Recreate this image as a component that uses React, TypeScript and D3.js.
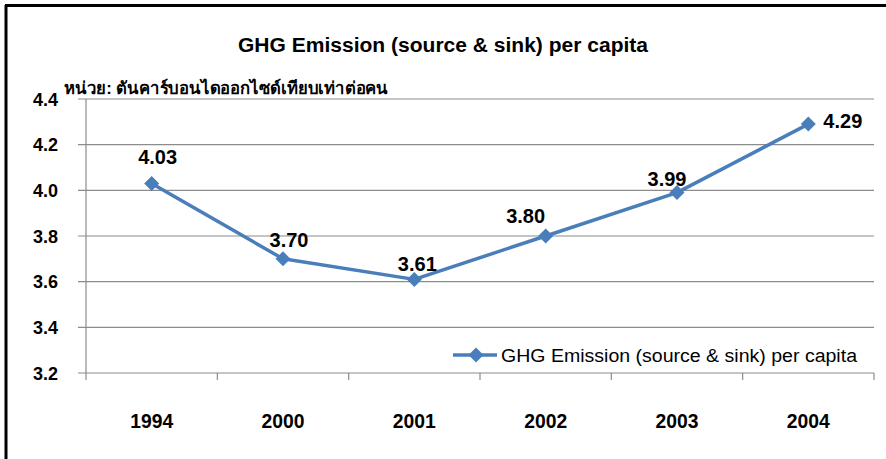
import React from "react";
import * as d3 from "d3";

const categories = ["1994", "2000", "2001", "2002", "2003", "2004"];
const values = [4.03, 3.7, 3.61, 3.8, 3.99, 4.29];
const yTicks = [3.2, 3.4, 3.6, 3.8, 4.0, 4.2, 4.4];
const seriesName = "GHG Emission (source & sink) per capita";
const titleText = "GHG Emission (source & sink) per capita";
const unitText = "หน่วย: ตันคาร์บอนไดออกไซด์เทียบเท่าต่อคน";

const W = 886;
const H = 459;
const left = 86;
const right = 874;
const top = 99;
const bottom = 373;
const blue = "#4a7ebb";
const grid = "#8c8c8c";
const font = "'Liberation Sans', Arial, Helvetica, sans-serif";
// data-label placement offsets (layout only)
const labelDx = [6, 6, 3, -20, -10, 15];
const labelDy = [-19, -12, -8.5, -13, -6.5, 4];

export default function App() {
  const x = d3.scaleBand<string>().domain(categories).range([left, right]).paddingInner(0).paddingOuter(0);
  const y = d3.scaleLinear().domain([3.2, 4.4]).range([bottom, top]);
  const cx = (c: string) => (x(c) as number) + x.bandwidth() / 2;
  const line = d3
    .line<number>()
    .x((_, i) => cx(categories[i]))
    .y((d) => y(d));
  const boundaries = [...categories.map((c) => x(c) as number), right];
  const diamond = (px: number, py: number, r: number) =>
    `M${px},${py - r}L${px + r},${py}L${px},${py + r}L${px - r},${py}Z`;

  return (
    <svg width={W} height={H} style={{ position: "absolute", left: 0, top: 0, background: "#fff" }}>
      <rect x={0} y={0} width={W} height={H} fill="#fff" />
      {/* frame */}
      <line x1={5} y1={5.5} x2={W} y2={5.5} stroke="#000" strokeWidth={3} />
      <line x1={6} y1={5} x2={6} y2={H} stroke="#000" strokeWidth={3} />

      <text x={443} y={52} textAnchor="middle" fontFamily={font} fontWeight="bold" fontSize={20} textLength={410} lengthAdjust="spacingAndGlyphs" fill="#000">
        {titleText}
      </text>
      <text x={64} y={94} fontFamily={font} fontWeight="bold" fontSize={17} textLength={324} lengthAdjust="spacingAndGlyphs" fill="#000">
        {unitText}
      </text>

      {/* gridlines */}
      {yTicks.map((t) => (
        <g key={t}>
          <line x1={left - 8} x2={right} y1={y(t)} y2={y(t)} stroke={grid} strokeWidth={1.2} />
          <text x={58} y={y(t) + 6.5} textAnchor="end" fontFamily={font} fontWeight="bold" fontSize={18} fill="#000">
            {t.toFixed(1)}
          </text>
        </g>
      ))}
      <line x1={left} x2={left} y1={top} y2={bottom} stroke={grid} strokeWidth={1.2} />
      {boundaries.map((b, i) => (
        <line key={i} x1={b} x2={b} y1={bottom} y2={bottom + 7} stroke={grid} strokeWidth={1.2} />
      ))}
      {categories.map((c) => (
        <text key={c} x={cx(c)} y={428} textAnchor="middle" fontFamily={font} fontWeight="bold" fontSize={20.5} textLength={43} lengthAdjust="spacingAndGlyphs" fill="#000">
          {c}
        </text>
      ))}

      <path d={line(values) || ""} fill="none" stroke={blue} strokeWidth={3.5} strokeLinejoin="round" />
      {values.map((v, i) => (
        <path key={i} d={diamond(cx(categories[i]), y(v), 7.5)} fill={blue} />
      ))}
      {values.map((v, i) => {
        const last = i === values.length - 1;
        return (
          <text
            key={"l" + i}
            x={cx(categories[i]) + labelDx[i]}
            y={y(v) + labelDy[i]}
            textAnchor={last ? "start" : "middle"}
            fontFamily={font}
            fontWeight="bold"
            fontSize={20}
            fill="#000"
          >
            {v.toFixed(2)}
          </text>
        );
      })}

      {/* legend */}
      <line x1={453} x2={497} y1={355} y2={355} stroke={blue} strokeWidth={3.5} />
      <path d={diamond(476, 355, 7.5)} fill={blue} />
      <text x={501} y={361.5} fontFamily={font} fontSize={18} textLength={356} lengthAdjust="spacingAndGlyphs" fill="#000">
        {seriesName}
      </text>
    </svg>
  );
}
